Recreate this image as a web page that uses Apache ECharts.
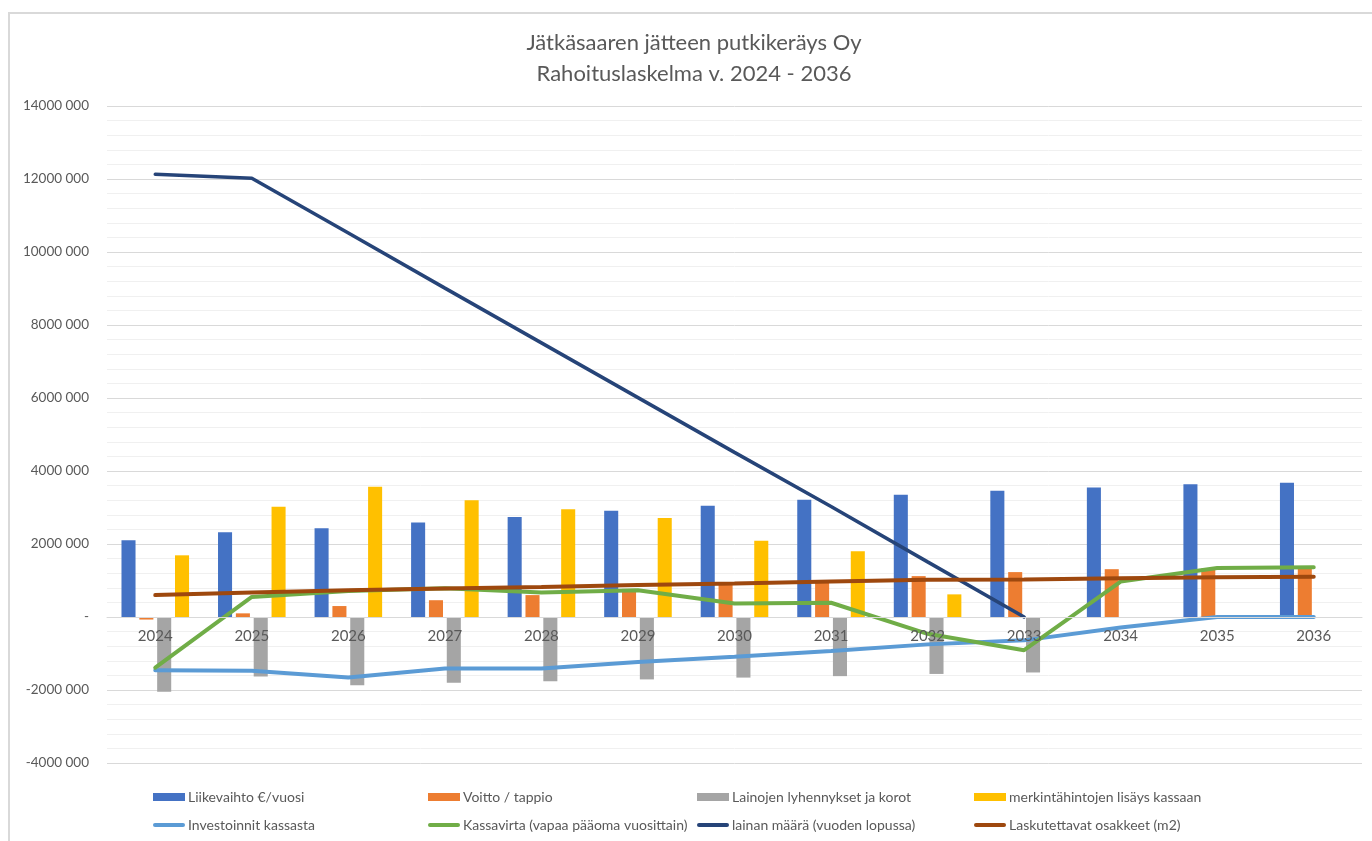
<!DOCTYPE html>
<html>
<head>
<meta charset="utf-8">
<script src="https://cdn.jsdelivr.net/npm/echarts@6/dist/echarts.min.js"></script>
<style>
    html, body { margin: 0; padding: 0; background: #ffffff; }
    #frame { position: absolute; left: 8px; top: 12px; width: 1372px; height: 840px; border-left: 2px solid #d9d9d9; border-top: 2px solid #d9d9d9; }
    #chart { position: absolute; left: 0; top: 0; width: 1372px; height: 841px; }
</style>
</head>
<body>
<div id="frame"></div>
<div id="chart"></div>
<script>
// vuodet
const years = ['2024', '2025', '2026', '2027', '2028', '2029', '2030', '2031', '2032', '2033', '2034', '2035', '2036']
// pylväät
const liikevaihto = [2100000, 2320000, 2430000, 2590000, 2740000, 2910000, 3050000, 3210000, 3350000, 3460000, 3550000, 3640000, 3680000]
const voitto = [-70000, 100000, 300000, 460000, 600000, 770000, 900000, 950000, 1120000, 1230000, 1310000, 1330000, 1360000]
const lainojenLyhennykset = [-2050000, -1630000, -1870000, -1800000, -1760000, -1710000, -1660000, -1620000, -1560000, -1520000, null, null, null]
const merkintahinnat = [1690000, 3020000, 3570000, 3200000, 2950000, 2710000, 2090000, 1800000, 620000, null, null, null, null]
// viivat
const investoinnit = [-1460000, -1470000, -1660000, -1410000, -1410000, -1230000, -1090000, -930000, -750000, -640000, -290000, 0, 0]
const kassavirta = [-1390000, 550000, 710000, 790000, 670000, 730000, 370000, 390000, -460000, -910000, 970000, 1340000, 1360000]
const lainanMaara = [12130000, 12020000, 10520000, 9010000, 7510000, 6010000, 4510000, 3030000, 1510000, 0, null, null, null]
const laskutettavat = [600000, 670000, 730000, 780000, 820000, 880000, 920000, 970000, 1020000, 1030000, 1060000, 1090000, 1100000]

const txt = '#595959'
const fontFam = 'Lato, "Open Sans", sans-serif'

const myChart = echarts.init(document.getElementById('chart'))

const legendBase = {
    orient: 'vertical',
    top: 790,
    padding: 0,
    itemWidth: 32,
    itemHeight: 8,
    itemGap: 14,
    selectedMode: false,
    textStyle: { color: txt, fontSize: 14, fontFamily: fontFam, padding: [0, 0, 0, -2] }
}
// viivan selitteen kuvake (ohut palkki)
const lineIcon = 'path://M2,0 L30,0 A2,2 0 0 1 30,4 L2,4 A2,2 0 0 1 2,0 Z'
const lineItem = (name) => ({ name: name, icon: lineIcon })

const option = {
    backgroundColor: 'transparent',
    animation: false,
    title: {
        text: 'Jätkäsaaren jätteen putkikeräys Oy\nRahoituslaskelma v. 2024 - 2036',
        left: 689,
        top: 22,
        textAlign: 'center',
        textStyle: { color: txt, fontSize: 22, fontWeight: 'normal', fontFamily: fontFam, lineHeight: 31 }
    },
    legend: [
        Object.assign({}, legendBase, { left: 153, data: [{ name: 'Liikevaihto €/vuosi', icon: 'rect' }, lineItem('Investoinnit kassasta')] }),
        Object.assign({}, legendBase, { left: 428, data: [{ name: 'Voitto / tappio', icon: 'rect' }, lineItem('Kassavirta (vapaa pääoma vuosittain)')] }),
        Object.assign({}, legendBase, { left: 697, data: [{ name: 'Lainojen lyhennykset ja korot', icon: 'rect' }, lineItem('lainan määrä (vuoden lopussa)')] }),
        Object.assign({}, legendBase, { left: 974, data: [{ name: 'merkintähintojen lisäys kassaan', icon: 'rect' }, lineItem('Laskutettavat osakkeet (m2)')] })
    ],
    grid: { left: 107, right: 10, top: 106, bottom: 78 },
    xAxis: {
        type: 'category',
        data: years,
        z: 10,
        offset: -146,
        axisLine: { onZero: false, lineStyle: { color: '#d9d9d9', width: 1 } },
        axisTick: { show: false },
        axisLabel: { color: txt, fontSize: 15, fontFamily: fontFam, margin: 12 }
    },
    yAxis: {
        type: 'value',
        min: -4000000,
        max: 14000000,
        interval: 2000000,
        axisLine: { show: false },
        axisTick: { show: false },
        axisLabel: {
            color: txt, fontSize: 13.5, fontFamily: fontFam, margin: 18,
            formatter: function (v) { return v === 0 ? '-' : (v / 1000) + ' 000' }
        },
        splitLine: { lineStyle: { color: '#d9d9d9', width: 1 } },
        minorTick: { show: false, splitNumber: 5 },
        minorSplitLine: { show: true, lineStyle: { color: '#f0f0f0', width: 1 } }
    },
    series: [
        { name: 'Liikevaihto €/vuosi', type: 'bar', data: liikevaihto, itemStyle: { color: '#4472C4' }, barGap: '27%', barCategoryGap: '30%' },
        { name: 'Voitto / tappio', type: 'bar', data: voitto, itemStyle: { color: '#ED7D31' } },
        { name: 'Lainojen lyhennykset ja korot', type: 'bar', data: lainojenLyhennykset, itemStyle: { color: '#A5A5A5' } },
        { name: 'merkintähintojen lisäys kassaan', type: 'bar', data: merkintahinnat, itemStyle: { color: '#FFC000' } },
        { name: 'Investoinnit kassasta', type: 'line', data: investoinnit, symbol: 'none', z: 3, itemStyle: { color: '#5B9BD5' }, lineStyle: { color: '#5B9BD5', width: 4, cap: 'round' } },
        { name: 'Kassavirta (vapaa pääoma vuosittain)', type: 'line', data: kassavirta, symbol: 'none', z: 3, itemStyle: { color: '#70AD47' }, lineStyle: { color: '#70AD47', width: 4, cap: 'round' } },
        { name: 'lainan määrä (vuoden lopussa)', type: 'line', data: lainanMaara, symbol: 'none', z: 3, itemStyle: { color: '#264478' }, lineStyle: { color: '#264478', width: 3.5, cap: 'round' } },
        { name: 'Laskutettavat osakkeet (m2)', type: 'line', data: laskutettavat, symbol: 'none', z: 3, itemStyle: { color: '#9E480E' }, lineStyle: { color: '#9E480E', width: 4, cap: 'round' } }
    ]
}
myChart.setOption(option)
</script>
</body>
</html>
